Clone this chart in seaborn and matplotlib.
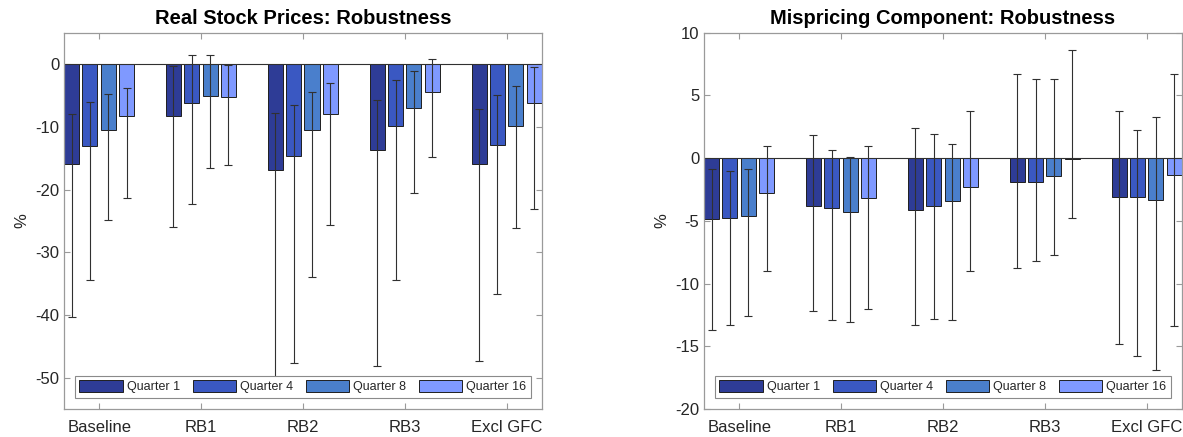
import numpy as np
import pandas as pd
import matplotlib
matplotlib.use("Agg")
import matplotlib.pyplot as plt
import seaborn as sns

# Scenario groups and forecast horizons
groups = ["Baseline", "RB1", "RB2", "RB3", "Excl GFC"]
quarters = ["Quarter 1", "Quarter 4", "Quarter 8", "Quarter 16"]

# Real stock prices: point estimates and confidence bands (%)
stock_q1 = [-16.0, -8.3, -16.85, -13.7, -15.85]
stock_q4 = [-13.0, -6.2, -14.7, -9.9, -12.9]
stock_q8 = [-10.55, -5.1, -10.5, -7.0, -9.85]
stock_q16 = [-8.3, -5.25, -7.95, -4.45, -6.2]
stock_hi_q1 = [-8.0, -0.3, -7.8, -5.7, -7.15]
stock_hi_q4 = [-6.0, 1.5, -6.5, -2.6, -4.9]
stock_hi_q8 = [-4.8, 1.5, -4.45, -1.07, -3.5]
stock_hi_q16 = [-3.8, -0.2, -2.97, 0.8, -0.4]
stock_lo_q1 = [-40.4, -26.0, -51.5, -48.1, -47.4]
stock_lo_q4 = [-34.5, -22.3, -47.7, -34.45, -36.6]
stock_lo_q8 = [-24.9, -16.5, -34.0, -20.6, -26.1]
stock_lo_q16 = [-21.3, -16.1, -25.6, -14.8, -23.1]

# Mispricing component: point estimates and confidence bands (%)
misp_q1 = [-4.87, -3.78, -4.1, -1.92, -3.09]
misp_q4 = [-4.79, -3.99, -3.78, -1.86, -3.09]
misp_q8 = [-4.6, -4.31, -3.43, -1.38, -3.3]
misp_q16 = [-2.74, -3.19, -2.26, -0.05, -1.33]
misp_hi_q1 = [-0.85, 1.86, 2.37, 6.68, 3.78]
misp_hi_q4 = [-1.01, 0.66, 1.89, 6.28, 2.21]
misp_hi_q8 = [-0.85, 0.13, 1.17, 6.28, 3.25]
misp_hi_q16 = [1.01, 0.96, 3.78, 8.6, 6.68]
misp_lo_q1 = [-13.7, -12.15, -13.27, -8.78, -14.82]
misp_lo_q4 = [-13.3, -12.93, -12.82, -8.17, -15.75]
misp_lo_q8 = [-12.55, -13.04, -12.87, -7.74, -16.87]
misp_lo_q16 = [-9.0, -12.0, -9.0, -4.73, -13.35]

colors = ["#2E3C96", "#3A58C2", "#4A7FCC", "#7F99FF"]


def long_frame(vals, los, his):
    rows = []
    for q, v, lo, hi in zip(quarters, vals, los, his):
        for g, a, b, c in zip(groups, v, lo, hi):
            rows.append({"group": g, "quarter": q, "value": a, "lo": b, "hi": c})
    return pd.DataFrame(rows)


stock_df = long_frame(
    [stock_q1, stock_q4, stock_q8, stock_q16],
    [stock_lo_q1, stock_lo_q4, stock_lo_q8, stock_lo_q16],
    [stock_hi_q1, stock_hi_q4, stock_hi_q8, stock_hi_q16],
)
misp_df = long_frame(
    [misp_q1, misp_q4, misp_q8, misp_q16],
    [misp_lo_q1, misp_lo_q4, misp_lo_q8, misp_lo_q16],
    [misp_hi_q1, misp_hi_q4, misp_hi_q8, misp_hi_q16],
)

sns.set_theme(style="white")
plt.rcParams["font.family"] = ["Liberation Sans", "DejaVu Sans"]
plt.rcParams["axes.unicode_minus"] = False

fig = plt.figure(figsize=(11.83, 4.37), dpi=100)
ax1 = fig.add_axes([0.0541, 0.064, 0.4038, 0.861])
ax2 = fig.add_axes([0.5951, 0.064, 0.4038, 0.861])

spine_col = "#9A9A9A"
text_col = "#262626"


def draw_panel(ax, df, title, ylim, yticks):
    sns.barplot(
        data=df, x="group", y="value", hue="quarter",
        order=groups, hue_order=quarters, palette=colors,
        width=0.72, gap=0.18, errorbar=None,
        edgecolor="#1F1F1F", linewidth=0.7, saturation=1.0,
        legend=False, ax=ax, zorder=2,
    )
    # confidence bands at each bar centre
    for q, cont in zip(quarters, ax.containers):
        sub = df[df["quarter"] == q].set_index("group").loc[groups]
        xs = np.array([p.get_x() + p.get_width() / 2 for p in cont.patches])
        mid = sub["value"].to_numpy()
        lo = sub["lo"].to_numpy()
        hi = sub["hi"].to_numpy()
        ax.errorbar(
            xs, mid, yerr=[mid - lo, hi - mid], fmt="none",
            ecolor="#303030", elinewidth=0.8, capsize=3, capthick=0.8,
            zorder=3,
        )
    ax.axhline(0, color="#303030", lw=0.8, zorder=2.5)
    ax.set_xlim(-0.345, 4.345)
    ax.set_ylim(*ylim)
    ax.set_yticks(yticks)
    ax.set_xlabel("")
    ax.set_ylabel("%", fontsize=12, color=text_col)
    ax.set_title(title, fontsize=14.5, fontweight="bold", color="black", pad=6)
    for s in ax.spines.values():
        s.set_visible(True)
        s.set_color(spine_col)
        s.set_linewidth(0.9)
    ax.tick_params(axis="both", which="both", direction="in", length=4,
                   width=0.8, color=spine_col, labelsize=12,
                   labelcolor=text_col, top=True, right=True, bottom=True,
                   left=True)
    ax.tick_params(axis="x", pad=8)
    leg = ax.legend(
        ax.containers, quarters, ncol=4, loc="lower center",
        bbox_to_anchor=(0.5, 0.03), fontsize=9, frameon=True,
        fancybox=False, handlelength=3.5, handleheight=1.1,
        handletextpad=0.3, columnspacing=1.0, borderpad=0.35,
        borderaxespad=0.0,
    )
    leg.get_frame().set_edgecolor("#8A8A8A")
    leg.get_frame().set_linewidth(0.8)
    leg.get_frame().set_alpha(1.0)
    leg.set_zorder(5)


draw_panel(ax1, stock_df, "Real Stock Prices: Robustness", (-55, 5),
           [-50, -40, -30, -20, -10, 0])
draw_panel(ax2, misp_df, "Mispricing Component: Robustness", (-20, 10),
           [-20, -15, -10, -5, 0, 5, 10])

fig.savefig("out.png", dpi=100)
